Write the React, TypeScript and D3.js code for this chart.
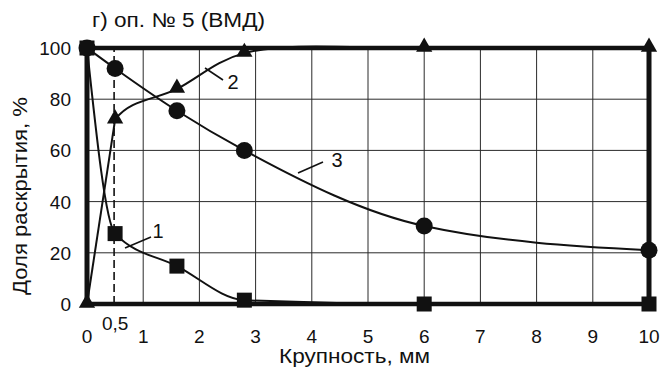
import React from "react";
import * as d3 from "d3";

// Particle size, mm (shared x positions of the measured points)
const sizes = [0, 0.5, 1.6, 2.8, 6, 10];
// Series 1 (squares), series 2 (triangles), series 3 (circles), %
const series1 = [100, 27.5, 14.8, 1.5, 0, 0];
const series2 = [0, 72, 84, 98, 100, 100];
const series3 = [100, 92, 75.5, 60, 30.5, 21];

const xTicks = [0, 1, 2, 3, 4, 5, 6, 7, 8, 9, 10];
const yTicks = [0, 20, 40, 60, 80, 100];

const title = "г) оп. № 5 (ВМД)";
const xLabel = "Крупность, мм";
const yLabel = "Доля раскрытия, %";

const W = 672;
const H = 372;
const FONT = "'Liberation Sans', Arial, Helvetica, sans-serif";

type P = [number, number];

export default function App() {
  const x = d3.scaleLinear().domain([0, 10]).range([87, 649]);
  const y = d3.scaleLinear().domain([0, 100]).range([304, 48]);

  const smooth = d3
    .line<P>()
    .x((d) => x(d[0]))
    .y((d) => y(d[1]))
    .curve(d3.curveMonotoneX);
  const bendy = d3
    .line<P>()
    .x((d) => x(d[0]))
    .y((d) => y(d[1]))
    .curve(d3.curveCatmullRom.alpha(0.5));

  const pts = (vals: number[]) => sizes.map((s, i) => [s, vals[i]] as P);
  const p2 = pts(series2);

  const tri = d3.symbol(d3.symbolTriangle, 115)();

  return (
    <svg width={W} height={H} style={{ position: "absolute", left: 0, top: 0, background: "#fff" }}>
      <defs>
        <clipPath id="afterHalf">
          <rect x={x(sizes[1])} y={0} width={W} height={H} />
        </clipPath>
      </defs>
      <rect width={W} height={H} fill="#fff" />
      {/* grid */}
      {xTicks.slice(1, -1).map((t) => (
        <line key={"gx" + t} x1={x(t)} x2={x(t)} y1={y(0)} y2={y(100)} stroke="#2a2a2a" strokeWidth={1} />
      ))}
      {yTicks.slice(1, -1).map((t) => (
        <line key={"gy" + t} x1={x(0)} x2={x(10)} y1={y(t)} y2={y(t)} stroke="#2a2a2a" strokeWidth={1} />
      ))}
      <line x1={x(0.5) - 1} x2={x(0.5) - 1} y1={y(0)} y2={y(100)} stroke="#111" strokeWidth={1.6} strokeDasharray="8 4" />

      {/* curves */}
      <path d={smooth(pts(series1)) || ""} fill="none" stroke="#111" strokeWidth={2} />
      <path d={smooth(p2.slice(0, 2)) || ""} fill="none" stroke="#111" strokeWidth={2} />
      <path d={bendy(p2) || ""} fill="none" stroke="#111" strokeWidth={2} clipPath="url(#afterHalf)" />
      <path d={smooth(pts(series3)) || ""} fill="none" stroke="#111" strokeWidth={2} />

      {/* frame */}
      <line x1={x(0) - 2} x2={x(10) + 2} y1={y(100)} y2={y(100)} stroke="#111" strokeWidth={4.5} />
      <line x1={x(0) - 2} x2={x(10) + 2} y1={y(0)} y2={y(0)} stroke="#111" strokeWidth={4.5} />
      <line x1={x(0)} x2={x(0)} y1={y(100)} y2={y(0)} stroke="#111" strokeWidth={5} />
      <line x1={x(10)} x2={x(10)} y1={y(100)} y2={y(0)} stroke="#111" strokeWidth={5} />

      {/* markers */}
      {sizes.map((s, i) => (
        <circle key={"c" + i} cx={x(s)} cy={y(series3[i])} r={8.5} fill="#111" />
      ))}
      {sizes.map((s, i) => (
        <rect key={"s" + i} x={x(s) - 7.5} y={y(series1[i]) - 7.5} width={15} height={15} fill="#111" />
      ))}
      {sizes.map((s, i) => (
        <path key={"t" + i} d={tri || ""} transform={`translate(${x(s)},${y(series2[i]) - 1})`} fill="#111" />
      ))}

      {/* series labels with leaders */}
      <g stroke="#111" strokeWidth={1.6}>
        <line x1={125} y1={248} x2={151} y2={237} />
        <line x1={205} y1={68} x2={223} y2={80} />
        <line x1={298} y1={173} x2={323} y2={162} />
      </g>
      <g fontFamily={FONT} fontSize={20} fill="#111" textAnchor="middle">
        <text x={158} y={238}>1</text>
        <text x={233} y={89}>2</text>
        <text x={337} y={167}>3</text>
      </g>

      {/* tick labels */}
      <g fontFamily={FONT} fontSize={19} fill="#111">
        {yTicks.map((t) => (
          <text key={"yl" + t} x={71} y={y(t) + 7} textAnchor="end">
            {t}
          </text>
        ))}
        {xTicks.map((t) => (
          <text key={"xl" + t} x={x(t)} y={343} textAnchor="middle">
            {t}
          </text>
        ))}
        <text x={x(0.5)} y={330} textAnchor="middle">0,5</text>
      </g>

      {/* titles */}
      <text x={92} y={27} fontFamily={FONT} fontSize={20} fill="#111" textLength={173} lengthAdjust="spacingAndGlyphs">
        {title}
      </text>
      <text x={279} y={363} fontFamily={FONT} fontSize={20} fill="#111" textLength={151} lengthAdjust="spacingAndGlyphs">
        {xLabel}
      </text>
      <text
        transform={`translate(27,295) rotate(-90)`}
        fontFamily={FONT}
        fontSize={20}
        fill="#111"
        textLength={198}
        lengthAdjust="spacingAndGlyphs"
      >
        {yLabel}
      </text>
    </svg>
  );
}
